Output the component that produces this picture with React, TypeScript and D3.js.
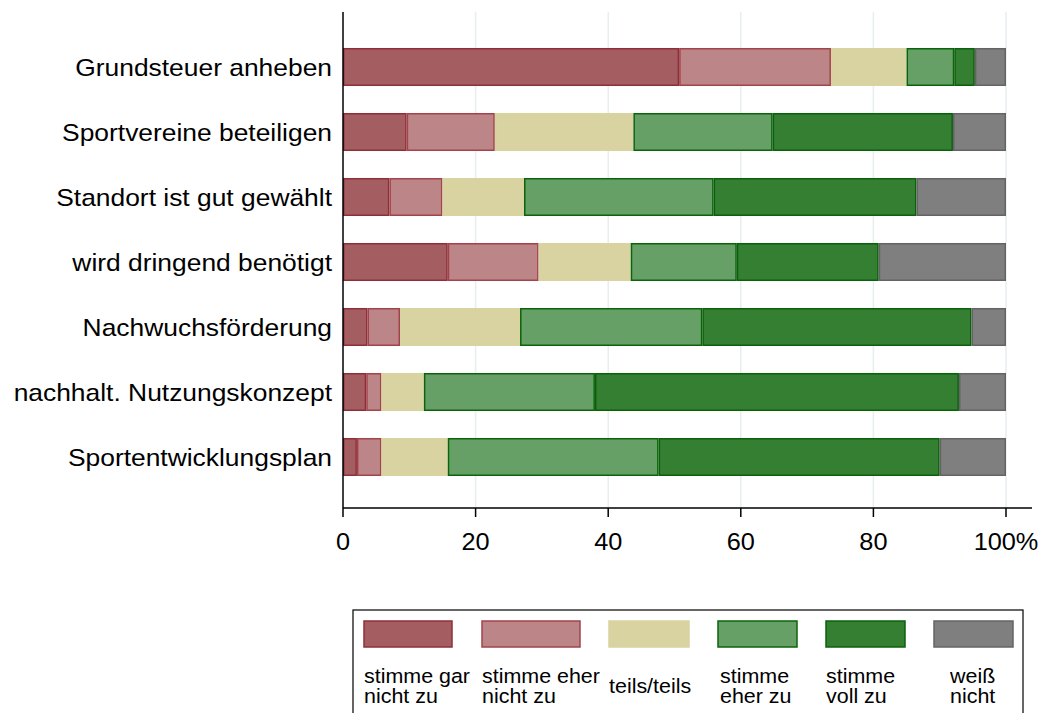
import React from "react";
import * as d3 from "d3";

const categories = [
  "Grundsteuer anheben",
  "Sportvereine beteiligen",
  "Standort ist gut gewählt",
  "wird dringend benötigt",
  "Nachwuchsförderung",
  "nachhalt. Nutzungskonzept",
  "Sportentwicklungsplan",
];
const seriesNames = ["garNicht", "eherNicht", "teils", "eherZu", "vollZu", "weissNicht"];
const legendLabels = [
  ["stimme gar", "nicht zu"],
  ["stimme eher", "nicht zu"],
  ["teils/teils"],
  ["stimme", "eher zu"],
  ["stimme", "voll zu"],
  ["weiß", "nicht"],
];
const garNicht = [50.7, 9.6, 7.0, 15.8, 3.7, 3.5, 2.1];
const eherNicht = [22.9, 13.3, 8.0, 13.7, 4.9, 2.3, 3.7];
const teils = [11.4, 20.9, 12.3, 13.9, 18.1, 6.4, 10.0];
const eherZu = [7.2, 21.0, 28.6, 16.0, 27.5, 25.8, 31.8];
const vollZu = [3.1, 27.2, 30.6, 21.4, 40.6, 54.9, 42.4];
const weissNicht = [4.7, 8.0, 13.5, 19.2, 5.2, 7.1, 10.0];
const xTicks = [0, 20, 40, 60, 80, 100];
const xTickLabels = ["0", "20", "40", "60", "80", "100%"];

const fills = ["#a45e61", "#bc8587", "#d8d3a0", "#67a067", "#357f33", "#7f7f7f"];
const strokes = ["#8e2f38", "#a3434c", "#d8d3a0", "#0b640b", "#0b600b", "#646464"];

// layout
const W = 1042, H = 713;
const X0 = 343, X1 = 1006, AXIS_END = 1032;
const Y_TOP = 12, Y_BOT = 508;
const FONT = "'Liberation Sans', Arial, sans-serif";
const SX = 1.1;
const LEG_SWATCH: [number, number][] = [[364, 452], [482, 580], [609, 689], [718, 797], [826, 905], [934, 1013]];
const LEG_TEXT_X = [364, 482, 609, 720, 826, 950];

function T({ x, y, size, anchor = "start", children }: any) {
  return (
    <text transform={`translate(${x},${y}) scale(${SX},1)`} fontSize={size} textAnchor={anchor} fontFamily={FONT} fill="#000">
      {children}
    </text>
  );
}

export default function App() {
  const rows = categories.map((c, i) => ({
    cat: c,
    garNicht: garNicht[i],
    eherNicht: eherNicht[i],
    teils: teils[i],
    eherZu: eherZu[i],
    vollZu: vollZu[i],
    weissNicht: weissNicht[i],
  }));
  const stack = d3.stack<any>().keys(seriesNames)(rows);
  const x = d3.scaleLinear().domain([0, 100]).range([X0, X1]);
  const y = d3.scaleBand<string>().domain(categories).range([34.5, 489.5]).paddingInner(0.415).paddingOuter(0.2075);
  const bw = y.bandwidth();

  return (
    <svg width={W} height={H} style={{ position: "absolute", left: 0, top: 0, background: "#fff" }}>
      <rect x={0} y={0} width={W} height={H} fill="#fff" />
      {xTicks.slice(1).map((t) => (
        <line key={t} x1={x(t)} x2={x(t)} y1={Y_TOP} y2={Y_BOT} stroke="#e6eef1" strokeWidth={1.5} />
      ))}
      {stack.map((s, si) =>
        s.map((d, i) => (
          <rect
            key={si + "-" + i}
            x={x(d[0]) + 0.75}
            y={(y(categories[i]) as number) + 0.75}
            width={Math.max(0, x(d[1]) - x(d[0]) - 1.5)}
            height={bw - 1.5}
            fill={fills[si]}
            stroke={strokes[si]}
            strokeWidth={1.5}
          />
        ))
      )}
      <line x1={X0} x2={X0} y1={Y_TOP} y2={Y_BOT} stroke="#000" strokeWidth={1.5} />
      <line x1={X0} x2={AXIS_END} y1={Y_BOT} y2={Y_BOT} stroke="#000" strokeWidth={1.5} />
      {xTicks.map((t, i) => (
        <g key={t}>
          <line x1={x(t)} x2={x(t)} y1={Y_BOT} y2={Y_BOT + 9} stroke="#000" strokeWidth={1.5} />
          <T x={x(t)} y={550} size={23} anchor="middle">{xTickLabels[i]}</T>
        </g>
      ))}
      {categories.map((c) => (
        <T key={c} x={332} y={(y(c) as number) + bw / 2 + 8.5} size={24} anchor="end">{c}</T>
      ))}
      <rect x={353} y={610} width={670} height={130} fill="none" stroke="#000" strokeWidth={1.2} />
      {seriesNames.map((s, i) => (
        <g key={s}>
          <rect x={LEG_SWATCH[i][0]} y={621} width={LEG_SWATCH[i][1] - LEG_SWATCH[i][0]} height={26}
            fill={fills[i]} stroke={strokes[i]} strokeWidth={1.5} />
          {legendLabels[i].length === 1 ? (
            <T x={LEG_TEXT_X[i]} y={693} size={19.5}>{legendLabels[i][0]}</T>
          ) : (
            legendLabels[i].map((l, li) => (
              <T key={li} x={LEG_TEXT_X[i]} y={683 + li * 20} size={19.5}>{l}</T>
            ))
          )}
        </g>
      ))}
    </svg>
  );
}
